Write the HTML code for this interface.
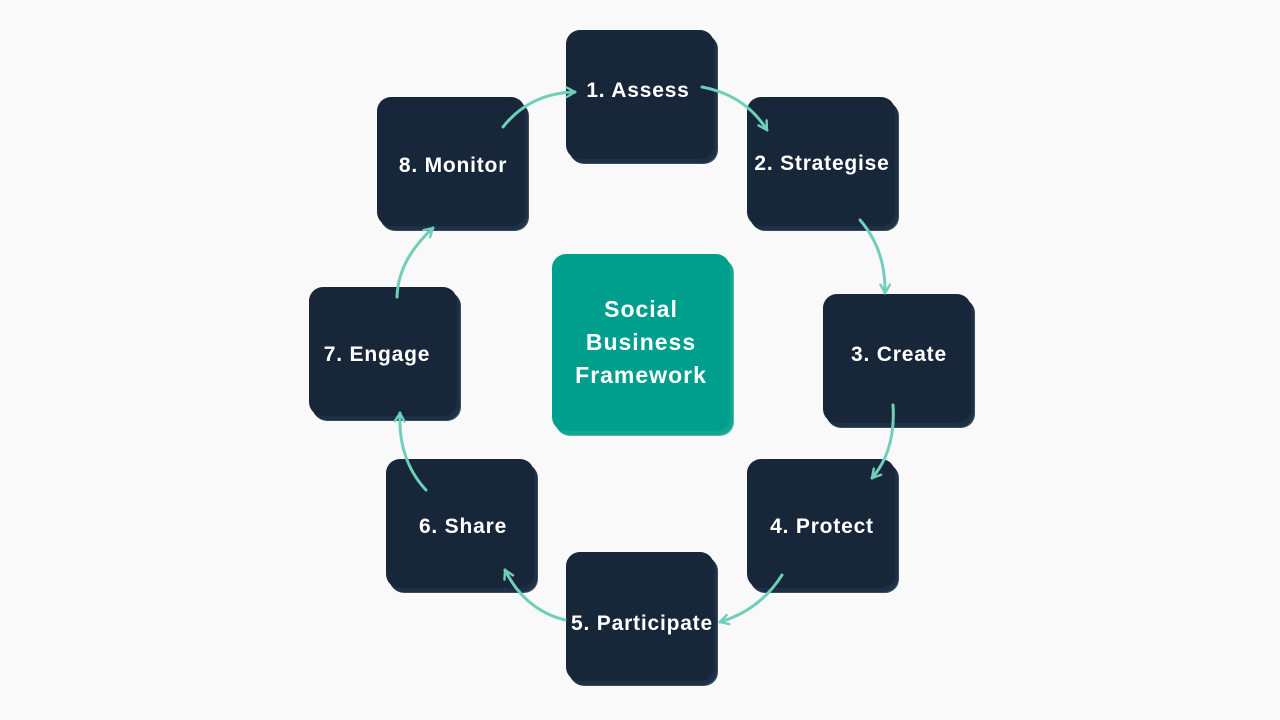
<!DOCTYPE html>
<html><head><style>
body{margin:0;width:1280px;height:720px;background:#f9f9fa;position:relative;overflow:hidden;font-family:"Liberation Sans",sans-serif}
.b{position:absolute;width:148px;height:129px;background:#172638;border-radius:14px;box-shadow:3px 4px 0 #1e3045,4px 5px 0 #3b4a5c}
.t{position:absolute;color:#fff;font-weight:bold;font-size:21px;letter-spacing:0.8px;white-space:nowrap;transform:translate(-50%,-50%)}
.c{position:absolute;left:552px;top:254px;width:178px;height:177px;background:#009e8c;border-radius:14px;box-shadow:3px 4px 0 #12a592,4px 5px 0 #4cbaa9;color:#fff;font-weight:bold;font-size:23px;letter-spacing:1px;line-height:33px;text-align:center;display:flex;align-items:center;justify-content:center}
</style></head><body>
<div class="b" style="left:566px;top:30px"></div>
<div class="b" style="left:747px;top:97px"></div>
<div class="b" style="left:823px;top:294px"></div>
<div class="b" style="left:747px;top:459px"></div>
<div class="b" style="left:566px;top:552px"></div>
<div class="b" style="left:386px;top:459px"></div>
<div class="b" style="left:309px;top:287px"></div>
<div class="b" style="left:377px;top:97px"></div>
<div class="c">Social<br>Business<br>Framework</div>
<div class="t" style="left:638px;top:91px">1. Assess</div>
<div class="t" style="left:822px;top:164px">2. Strategise</div>
<div class="t" style="left:899px;top:355px">3. Create</div>
<div class="t" style="left:822px;top:527px">4. Protect</div>
<div class="t" style="left:642px;top:624px">5. Participate</div>
<div class="t" style="left:463px;top:527px">6. Share</div>
<div class="t" style="left:377px;top:355px">7. Engage</div>
<div class="t" style="left:453px;top:166px">8. Monitor</div>
<svg width="1280" height="720" style="position:absolute;left:0;top:0">
<defs><marker id="a" viewBox="0 0 10 10" refX="8" refY="5" markerWidth="4" markerHeight="4" orient="auto" markerUnits="strokeWidth"><path d="M1 1L8 5L1 9" fill="none" stroke="#6fcfb8" stroke-width="2" stroke-linecap="round" stroke-linejoin="round"/></marker></defs>
<g fill="none" stroke="#6fcfb8" stroke-width="3" stroke-linecap="round" marker-end="url(#a)">
<path d="M503 127Q530 93 575 92"/>
<path d="M702 87Q745 95 767 130"/>
<path d="M860 220Q886 250 885 293"/>
<path d="M893 405Q896 450 872 478"/>
<path d="M782 575Q760 610 720 622"/>
<path d="M565 620Q525 610 505 570"/>
<path d="M426 490Q398 460 400 413"/>
<path d="M397 297Q398 260 433 228"/>
</g></svg>
</body></html>
